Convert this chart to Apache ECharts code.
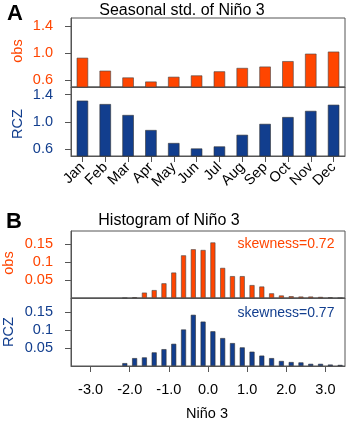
<!DOCTYPE html>
<html>
<head>
<meta charset="utf-8">
<script src="https://cdn.jsdelivr.net/npm/echarts@6/dist/echarts.min.js"></script>
<style>
  html, body {margin:0; padding:0; background:#fff;}
  #chart {width:353px; height:421px;}
</style>
</head>
<body>
<div id="chart"></div>
<script>
// panel A: seasonal std
var months = ['Jan','Feb','Mar','Apr','May','Jun','Jul','Aug','Sep','Oct','Nov','Dec'];
var std_obs = [0.93, 0.74, 0.64, 0.58, 0.65, 0.67, 0.73, 0.78, 0.80, 0.88, 0.99, 1.02];
var std_rcz = [1.31, 1.26, 1.10, 0.88, 0.69, 0.61, 0.64, 0.81, 0.97, 1.07, 1.16, 1.25];
var stdTicks = [0.6, 1.0, 1.4];

// panel B: histograms (bin centres, width 0.25)
var bins = [-2.125,-1.875,-1.625,-1.375,-1.125,-0.875,-0.625,-0.375,-0.125,0.125,0.375,0.625,0.875,1.125,1.375,1.625,1.875,2.125,2.375,2.625,2.875,3.125,3.375];
var hist_obs = [0, 0.002, 0.015, 0.022, 0.041, 0.071, 0.119, 0.136, 0.134, 0.155, 0.084, 0.061, 0.061, 0.036, 0.032, 0.013, 0.007, 0.005, 0.004, 0.004, 0.003, 0.002, 0];
var hist_rcz = [0.008, 0.022, 0.024, 0.038, 0.047, 0.062, 0.102, 0.143, 0.124, 0.097, 0.078, 0.064, 0.052, 0.040, 0.029, 0.022, 0.014, 0.011, 0.010, 0.006, 0.006, 0.004, 0.003];
var histTicks = [0.05, 0.1, 0.15];
var ninoTicks = [-3, -2, -1, 0, 1, 2, 3];

var ORANGE = '#FF4500', BLUE = '#123E8E', FRAME = '#555';
var FONT = '"Liberation Sans", Arial, sans-serif';
var FS = 14.5;

var myChart = echarts.init(document.getElementById('chart'));

function pairs(xs, ys){ return xs.map(function(x,i){ return [x, ys[i]]; }); }

function yAx(idx, min, max, ticks, color, fmt){
    return {
        gridIndex: idx, type: 'value', min: min, max: max,
        axisLine: {show: true, onZero: false, lineStyle: {color: FRAME}},
        axisTick: {show: true, length: 6, customValues: ticks, lineStyle: {color: FRAME}},
        axisLabel: {customValues: ticks, color: color, fontSize: FS, fontFamily: FONT, margin: 18,
                    formatter: fmt},
        splitLine: {show: false}
    };
}

function grid(top, h){
    return {left: 71, width: 274, top: top, height: h, show: true,
            borderColor: FRAME, borderWidth: 1, backgroundColor: 'transparent'};
}

function txt(x, y, s, size, color, bold, rot){
    return {type: 'text', x: x, y: y, rotation: rot || 0,
            style: {text: s, fill: color, fontSize: size, fontFamily: FONT,
                    fontWeight: bold ? 'bold' : 'normal', align: 'center', verticalAlign: 'middle'}};
}

var fmt1 = function(v){ return v.toFixed(1); };
var fmtH = function(v){ return String(+v.toFixed(2)); };

option = {
    animation: false,
    grid: [grid(18, 69), grid(87, 69), grid(231, 67), grid(298, 68)],
    xAxis: [
        {gridIndex: 0, type: 'category', data: months, axisLine: {onZero: false, lineStyle: {color: FRAME}},
         axisTick: {show: false}, axisLabel: {show: false}},
        {gridIndex: 1, type: 'category', data: months, axisLine: {onZero: false, lineStyle: {color: FRAME}},
         axisTick: {show: true, alignWithLabel: true, length: 6, lineStyle: {color: FRAME}},
         axisLabel: {rotate: 45, color: '#000', fontSize: FS, fontFamily: FONT, margin: 9, interval: 0}},
        {gridIndex: 2, type: 'value', min: -3.5, max: 3.5, axisLine: {onZero: false, lineStyle: {color: FRAME}},
         axisTick: {show: false}, axisLabel: {show: false}, splitLine: {show: false}},
        {gridIndex: 3, type: 'value', min: -3.5, max: 3.5, axisLine: {onZero: false, lineStyle: {color: FRAME}},
         axisTick: {show: true, length: 6, customValues: ninoTicks, lineStyle: {color: FRAME}},
         axisLabel: {customValues: ninoTicks, formatter: fmt1, color: '#000', fontSize: FS, fontFamily: FONT, margin: 16},
         splitLine: {show: false}}
    ],
    yAxis: [
        yAx(0, 0.5, 1.515, stdTicks, ORANGE, fmt1),
        yAx(1, 0.5, 1.51, stdTicks, BLUE, fmt1),
        yAx(2, 0, 0.187, histTicks, ORANGE, fmtH),
        yAx(3, 0, 0.19, histTicks, BLUE, fmtH)
    ],
    series: [
        {type: 'bar', xAxisIndex: 0, yAxisIndex: 0, data: std_obs, barWidth: '50%',
         itemStyle: {color: ORANGE, borderColor: '#444', borderWidth: 0.6}},
        {type: 'bar', xAxisIndex: 1, yAxisIndex: 1, data: std_rcz, barWidth: '50%',
         itemStyle: {color: BLUE, borderColor: '#333', borderWidth: 0.6}},
        {type: 'bar', xAxisIndex: 2, yAxisIndex: 2, data: pairs(bins, hist_obs), barWidth: 5,
         itemStyle: {color: ORANGE, borderColor: '#444', borderWidth: 0.6}},
        {type: 'bar', xAxisIndex: 3, yAxisIndex: 3, data: pairs(bins, hist_rcz), barWidth: 5,
         itemStyle: {color: BLUE, borderColor: '#333', borderWidth: 0.6}}
    ],
    graphic: [
        txt(15, 14, 'A', 22, '#000', true),
        txt(182, 11, 'Seasonal std. of Niño 3', 16, '#000'),
        txt(18, 51, 'obs', FS, ORANGE, false, Math.PI/2),
        txt(18, 124, 'RCZ', FS, BLUE, false, Math.PI/2),
        txt(14, 222, 'B', 22, '#000', true),
        txt(169, 221, 'Histogram of Niño 3', 16, '#000'),
        txt(9, 263, 'obs', FS, ORANGE, false, Math.PI/2),
        txt(9, 332, 'RCZ', FS, BLUE, false, Math.PI/2),
        txt(286, 244, 'skewness=0.72', 14, ORANGE),
        txt(286, 313, 'skewness=0.77', 14, BLUE),
        txt(207, 414, 'Niño 3', FS, '#000')
    ]
};

myChart.setOption(option);
</script>
</body>
</html>
